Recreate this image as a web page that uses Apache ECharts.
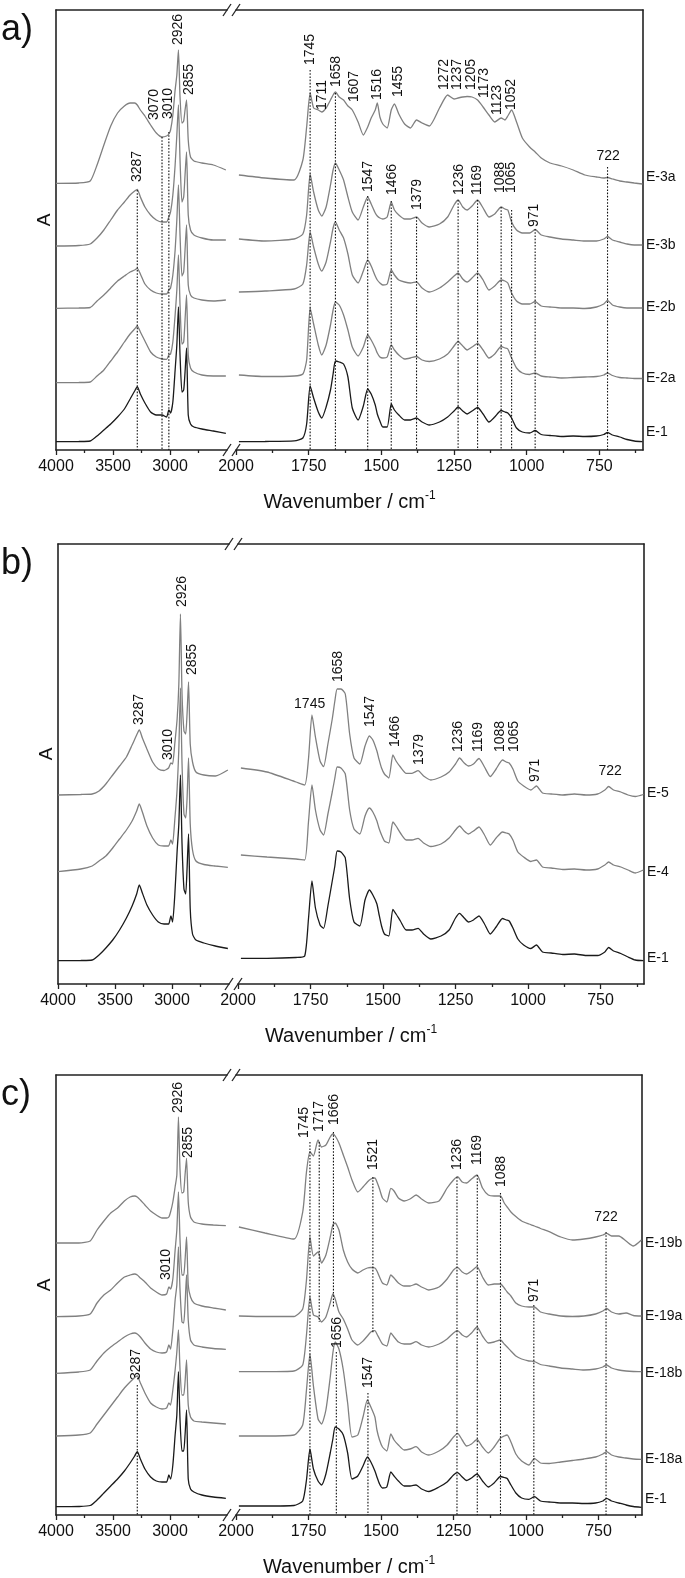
<!DOCTYPE html>
<html><head><meta charset="utf-8">
<script src="https://cdn.jsdelivr.net/npm/echarts@6/dist/echarts.min.js"></script>
<style>html,body{margin:0;padding:0;background:#fff}#c{width:685px;height:1578px}</style>
</head><body><div id="c"></div>
<script>
// ---------- shared wavenumber grids (cm-1) ----------
const HW = [4000,3800,3700,3640,3580,3520,3460,3400,3350,3310,3287,3260,3220,3170,3120,3070,3030,3010,2995,2975,2955,2940,2926,2912,2895,2880,2868,2855,2840,2820,2790,2720,2620,2510];
const RW = [1990,1900,1800,1770,1757,1745,1733,1717,1705,1690,1675,1666,1658,1645,1630,1615,1600,1580,1562,1547,1535,1521,1514,1505,1495,1480,1466,1455,1440,1420,1400,1379,1360,1335,1300,1272,1250,1236,1220,1205,1188,1169,1150,1130,1110,1088,1075,1065,1052,1035,1015,990,971,950,920,880,840,800,760,735,722,705,680,655,630,602];
const X_TICKS_HIGH = [4000,3500,3000];
const X_MINOR_HIGH = [3750,3250,2750];
const X_TICKS_LOW = [2000,1750,1500,1250,1000,750];
const X_MINOR_LOW = [1875,1625,1375,1125,875,625];

// ---------- panel a ----------
const aNames = ['E-3a','E-3b','E-2b','E-2a','E-1'];
const aNameV = [27.3,20.5,14.33,7.2,1.83];
const aE3aH = [26.67,26.7,26.9,28.5,30.5,32.4,33.7,34.4,34.7,34.7,34.5,34.0,33.4,32.5,31.7,31.3,31.4,31.6,32.0,33.5,36.0,37.5,40.0,35.3,32.7,32.9,34.0,35.0,31.0,29.3,28.9,28.7,28.5,28.0];
const aE3aL = [27.5,27.2,27.0,29.0,32.3,35.7,34.2,34.0,33.8,34.2,35.0,35.5,35.8,35.3,35.0,34.4,34.0,32.8,31.5,32.3,33.2,34.0,34.7,33.3,32.6,32.2,34.0,34.6,33.6,32.6,32.2,33.0,32.7,32.4,34.2,35.5,35.1,35.2,35.3,35.35,35.3,35.0,34.3,33.5,32.8,33.2,33.0,33.4,34.0,32.8,31.2,30.3,29.8,29.2,28.7,28.4,28.0,27.5,27.3,27.2,27.25,27.1,26.9,26.8,26.7,26.6];
const aE3bH = [20.4,20.45,20.6,21.2,22.0,23.0,24.0,24.8,25.5,25.9,26.07,25.3,24.3,23.5,23.0,22.8,22.8,23.3,23.8,25.5,28.5,31.5,34.5,29.0,24.8,25.3,27.5,29.8,23.5,22.0,21.5,21.2,21.0,21.0];
const aE3bL = [21.1,20.9,21.1,21.6,23.5,27.6,25.8,24.0,23.4,24.3,26.5,28.0,28.7,28.0,27.0,25.3,23.8,23.0,24.3,25.3,24.6,23.7,23.4,23.2,23.1,23.3,24.8,24.0,23.5,23.1,23.1,23.3,22.7,22.3,22.6,23.3,24.5,25.0,24.3,24.0,24.4,25.0,24.2,23.3,23.6,24.3,24.1,24.0,22.8,22.0,21.7,21.7,22.05,21.5,21.3,21.1,21.0,20.9,20.9,21.1,21.35,21.0,20.8,20.6,20.5,20.5];
const aE2bH = [14.17,14.2,14.25,14.9,15.5,16.2,16.9,17.4,17.8,18.0,18.17,17.6,16.6,16.0,15.7,15.6,15.6,16.0,16.2,17.5,20.0,23.0,26.5,21.5,17.4,17.8,20.0,22.5,16.5,15.5,15.2,15.0,14.9,15.0];
const aE2bL = [15.8,15.9,16.1,16.6,18.5,21.8,20.3,18.6,17.9,18.8,20.8,22.2,22.8,22.0,21.2,19.6,17.5,16.7,17.9,19.0,18.4,17.4,17.0,16.7,16.5,16.6,18.0,17.5,17.0,16.8,16.7,16.8,16.2,15.8,16.2,16.8,17.4,17.7,17.1,16.8,17.2,17.7,17.0,16.0,16.4,17.0,16.9,16.7,15.7,14.9,14.6,14.6,14.85,14.4,14.3,14.2,14.2,14.15,14.3,14.6,14.95,14.5,14.3,14.2,14.2,14.2];
const aE2aH = [6.73,6.75,6.8,7.4,8.0,8.9,9.8,10.8,11.6,12.1,12.4,11.8,10.9,9.8,9.3,9.1,9.07,9.5,9.6,10.8,13.5,16.0,19.5,14.5,10.6,10.8,13.0,15.5,9.5,8.2,7.8,7.5,7.4,7.4];
const aE2aL = [7.5,7.35,7.4,7.6,9.0,14.2,12.6,10.5,9.5,10.5,12.5,14.0,14.8,14.5,13.5,12.0,10.3,9.4,10.3,11.5,11.0,10.2,9.7,9.3,9.2,9.3,10.5,10.0,9.5,9.1,9.2,9.35,9.0,8.85,9.1,9.6,10.4,10.85,10.4,10.0,10.3,10.65,10.0,9.2,9.6,10.35,10.2,10.1,9.2,8.2,7.7,7.55,7.7,7.4,7.3,7.2,7.25,7.3,7.35,7.5,7.7,7.45,7.25,7.2,7.15,7.15];
const aE1H = [0.83,0.85,0.9,1.4,2.0,2.6,3.3,4.1,5.1,5.9,6.33,5.6,4.7,3.8,3.5,3.5,3.3,4.0,3.7,4.8,8.0,10.5,14.3,9.5,5.8,6.0,7.8,10.2,3.5,2.6,2.3,2.1,1.9,1.67];
const aE1L = [0.83,0.85,0.92,1.2,2.6,6.4,5.2,3.8,3.2,4.3,6.0,7.6,8.9,8.8,8.6,7.3,4.2,3.0,4.4,6.1,5.6,4.5,3.6,2.9,2.3,2.3,4.6,4.0,3.5,3.0,3.0,3.2,2.8,2.5,2.8,3.3,3.9,4.3,3.9,3.6,3.9,4.25,3.6,2.8,3.3,3.95,3.8,3.7,3.2,2.2,1.8,1.7,1.95,1.55,1.45,1.35,1.4,1.35,1.4,1.55,1.75,1.5,1.3,1.05,0.9,0.83];
// annotations: [line wavenumber, label wavenumber, label level, line top, line bottom, text, orientation]
const aAnnH = [
  [3287,3287,26.8,26.0,0,'3287','v'],
  [3070,3140,33.0,31.3,0,'3070','v'],
  [3010,3018,33.1,31.8,0,'3010','v'],
  [null,2932,40.5,null,null,'2926','v'],
  [null,2828,35.5,null,null,'2855','v']
];
const aAnnL = [
  [1745,1745,38.5,38.0,0,'1745','v'],
  [null,1704,34.0,null,null,'1711','v'],
  [1658,1656,36.3,35.7,0,'1658','v'],
  [null,1594,34.8,null,null,'1607','v'],
  [null,1513,35.0,null,null,'1516','v'],
  [null,1442,35.3,null,null,'1455','v'],
  [null,1284,36.0,null,null,'1272','v'],
  [null,1238,36.0,null,null,'1237','v'],
  [null,1191,36.0,null,null,'1205','v'],
  [null,1146,35.2,null,null,'1173','v'],
  [null,1102,33.5,null,null,'1123','v'],
  [null,1053,34.0,null,null,'1052','v'],
  [722,720,29.4,28.3,0,'722','h'],
  [1547,1547,25.8,25.4,0,'1547','v'],
  [1466,1464,25.5,24.9,0,'1466','v'],
  [1379,1378,24.0,23.3,0,'1379','v'],
  [1236,1233,25.5,25.0,0,'1236','v'],
  [1169,1169,25.5,25.0,0,'1169','v'],
  [1088,1091,25.7,24.3,0,'1088','v'],
  [1052,1052,25.7,24.0,0,'1065','v'],
  [971,975,22.3,22.1,0,'971','v']
];

// ---------- panel b ----------
const bNames = ['E-5','E-4','E-1'];
const bNameV = [19.07,11.23,2.57];
const bE5H = [18.9,18.95,19.0,19.3,20.0,20.9,21.8,22.7,23.9,24.9,25.4,24.6,23.5,22.2,21.5,21.35,21.6,22.1,22.0,24.1,26.5,30.0,37.0,29.0,25.3,25.0,27.0,30.2,24.0,22.2,21.2,20.9,20.8,21.4];
const bE5L = [21.6,21.2,20.2,19.9,22.5,26.9,24.7,22.3,21.73,24.0,26.5,28.3,29.5,29.5,29.0,25.0,22.6,22.0,23.8,24.8,24.4,23.3,22.5,21.6,21.0,20.6,22.9,22.3,21.7,21.07,21.07,21.33,20.8,20.4,20.7,21.2,22.0,22.6,22.1,21.8,22.0,22.55,21.7,20.75,21.5,22.4,22.2,22.1,21.5,20.3,19.8,19.4,19.8,19.1,19.0,18.9,19.0,18.9,19.0,19.4,19.75,19.4,19.2,18.9,18.75,18.95];
const bE4H = [11.23,11.5,11.8,12.3,12.8,13.6,14.5,15.4,16.3,17.3,18.0,17.2,15.8,14.6,13.9,13.8,13.8,14.4,14.0,16.5,19.5,23.5,29.6,22.0,17.0,16.6,18.5,22.6,16.0,13.4,12.3,11.95,11.8,11.67];
const bE4L = [12.9,12.7,12.5,12.4,16.2,19.9,17.4,15.4,14.9,17.0,19.2,20.6,21.7,21.6,21.0,17.4,15.5,15.0,16.8,17.6,17.2,16.3,15.6,14.9,14.3,14.1,16.2,15.8,15.1,14.4,14.4,14.57,14.1,13.75,14.0,14.6,15.4,15.8,15.3,15.0,15.3,15.7,14.9,13.9,14.6,15.2,15.1,15.0,14.4,13.2,12.7,12.25,12.4,11.7,11.6,11.45,11.5,11.4,11.5,11.9,12.2,11.9,11.7,11.4,11.1,11.4];
const bE1H = [2.33,2.35,2.4,2.9,3.6,4.4,5.4,6.6,7.8,9.0,9.9,9.1,7.9,6.9,6.2,6.0,6.0,6.8,6.2,9.0,13.3,16.0,20.9,14.0,9.5,9.0,11.5,15.0,7.5,5.0,4.4,4.1,3.8,3.55];
const bE1L = [2.57,2.57,2.65,2.8,6.5,10.3,7.6,5.9,5.57,7.8,10.3,11.8,13.3,13.2,12.6,8.5,6.2,5.8,8.4,9.4,8.9,8.0,7.0,5.8,5.0,4.8,7.47,7.0,6.3,5.4,5.4,5.57,5.0,4.5,4.8,5.4,6.6,7.07,6.6,6.2,6.4,6.8,6.0,5.0,5.7,6.55,6.4,6.3,5.6,4.5,3.9,3.55,3.9,3.2,3.1,2.95,3.0,2.85,2.85,3.2,3.65,3.3,3.05,2.7,2.4,2.33];
const bAnnH = [
  [null,3287,25.9,null,null,'3287','v'],
  [null,3030,22.4,null,null,'3010','v'],
  [null,2911,37.7,null,null,'2926','v'],
  [null,2827,30.9,null,null,'2855','v']
];
const bAnnL = [
  [null,1753,28.0,null,null,'1745','h'],
  [null,1653,30.2,null,null,'1658','v'],
  [null,1543,25.7,null,null,'1547','v'],
  [null,1459,23.7,null,null,'1466','v'],
  [null,1375,21.9,null,null,'1379','v'],
  [null,1240,23.2,null,null,'1236','v'],
  [null,1171,23.2,null,null,'1169','v'],
  [null,1096,23.2,null,null,'1088','v'],
  [null,1048,23.2,null,null,'1065','v'],
  [null,975,20.2,null,null,'971','v'],
  [null,717,21.25,null,null,'722','h']
];

// ---------- panel c ----------
const cNames = ['E-19b','E-19a','E-18b','E-18a','E-1'];
const cNameV = [27.17,19.9,14.17,5.57,1.57];
const cE19bH = [27.2,27.2,27.4,28.5,29.4,30.2,30.7,31.4,31.8,31.9,31.8,31.5,31.0,30.4,30.0,29.7,29.7,29.8,30.3,31.3,32.8,34.0,39.8,34.5,32.2,32.3,34.0,35.67,31.3,29.8,29.3,29.1,29.0,28.93];
const cE19bL = [28.8,28.2,27.6,30.3,34.3,36.33,35.9,37.5,36.8,37.0,37.8,38.1,37.9,37.2,36.0,34.8,33.5,32.3,32.8,33.3,33.6,33.7,33.3,32.6,31.7,31.3,32.67,32.4,31.7,31.4,31.6,32.0,31.6,31.2,31.4,32.7,33.5,33.83,33.3,33.2,33.6,34.0,32.7,32.0,31.9,31.9,31.2,30.8,30.3,29.85,29.4,29.1,28.9,28.65,28.33,27.8,27.5,27.6,27.8,28.0,28.17,27.9,27.9,27.4,26.9,27.5];
const cE19aH = [19.83,19.9,20.1,21.2,22.0,22.5,23.2,23.8,24.0,24.1,24.0,23.7,23.3,22.7,22.3,22.0,22.1,22.8,22.6,23.6,26.5,28.5,32.3,27.5,24.0,24.0,25.5,27.8,23.0,21.8,21.2,20.9,20.7,20.5];
const cE19aL = [19.9,19.85,19.85,20.6,23.5,27.8,25.9,26.3,25.2,26.0,27.8,29.0,29.2,28.5,26.5,25.3,24.6,24.2,24.5,24.7,24.75,24.7,24.4,23.8,23.2,23.0,24.0,23.7,23.2,22.9,22.9,23.1,22.8,22.5,22.8,23.6,24.5,24.77,24.3,24.1,24.4,24.83,23.8,23.0,23.1,23.1,22.7,22.3,21.9,21.2,20.9,20.8,20.8,20.3,20.1,19.9,19.85,19.9,20.1,20.4,20.65,20.3,20.1,20.2,19.95,19.9];
const cE18bH = [14.17,14.3,14.5,15.4,16.2,16.8,17.3,17.8,18.1,18.2,18.1,17.8,17.2,16.6,16.3,16.2,16.3,17.0,16.6,18.5,21.5,23.0,26.8,22.5,19.3,19.2,21.0,24.0,19.5,17.5,17.0,16.8,16.65,16.57];
const cE18bL = [14.33,14.33,14.4,15.0,18.0,21.8,20.0,19.8,19.3,19.8,21.2,22.1,21.6,20.3,19.6,18.6,17.5,17.0,17.4,17.9,18.3,18.43,18.1,17.6,17.1,16.9,18.2,17.8,17.3,17.1,17.1,17.33,17.0,16.8,17.1,17.6,18.2,18.43,18.0,17.8,18.2,18.8,17.9,17.2,17.3,17.5,17.1,16.8,16.4,15.9,15.6,15.4,15.35,15.05,14.9,14.7,14.6,14.5,14.6,14.8,15.0,14.7,14.5,14.4,14.35,14.33];
const cE18aH = [7.9,8.0,8.2,9.1,10.0,10.9,11.8,12.7,13.3,13.75,13.9,13.2,12.2,11.2,10.8,10.6,10.7,11.2,11.0,12.5,14.5,16.3,18.5,14.5,12.0,12.0,13.3,15.5,11.0,9.8,9.4,9.3,9.2,9.1];
const cE18aL = [7.9,7.9,8.0,9.0,12.5,16.1,12.9,9.6,9.1,10.5,13.8,16.2,17.3,16.6,14.5,11.2,7.8,8.0,9.8,11.5,10.8,9.8,8.5,7.5,6.8,6.4,8.1,7.5,7.0,6.5,6.6,6.83,6.3,6.0,6.4,7.0,7.8,8.17,7.5,6.9,7.1,7.55,6.8,6.2,6.8,7.7,7.9,8.0,7.3,6.1,5.4,5.0,5.67,5.2,5.15,5.3,5.45,5.6,5.8,6.1,6.33,6.0,5.8,5.7,5.6,5.57];
const cE1H = [0.83,0.85,0.95,1.5,2.2,2.9,3.6,4.4,5.2,5.9,6.33,5.6,4.6,3.8,3.4,3.3,3.3,4.0,3.6,5.0,8.0,10.0,14.33,9.5,6.4,6.4,8.0,10.5,3.6,2.6,2.3,2.0,1.8,1.67];
const cE1L = [0.9,0.9,0.95,1.4,3.5,6.6,4.6,3.4,3.0,4.1,6.2,7.6,8.8,8.6,8.0,6.2,3.6,3.9,4.9,5.8,5.3,4.4,3.8,3.1,2.7,2.8,4.3,3.9,3.4,2.9,2.9,3.0,2.6,2.35,2.8,3.3,4.0,4.23,3.8,3.45,3.7,4.1,3.4,2.8,3.2,3.85,3.75,3.65,3.0,2.2,1.7,1.57,1.83,1.4,1.3,1.2,1.2,1.15,1.2,1.4,1.67,1.4,1.2,1.0,0.85,0.77];
const cAnnH = [
  [null,2932,40.2,null,null,'2926','v'],
  [null,2844,35.7,null,null,'2855','v'],
  [null,3037,23.5,null,null,'3010','v'],
  [3287,3296,13.5,13.0,0,'3287','v']
];
const cAnnL = [
  [1745,1765,37.7,37.3,0,'1745','v'],
  [1713,1713,38.3,37.3,19.3,'1717','v'],
  [1664,1662,39.0,38.3,20.8,'1666','v'],
  [1654,1651,16.7,16.3,0,'1656','v'],
  [1528,1528,34.5,33.8,18.2,'1521','v'],
  [1545,1546,12.7,12.2,0,'1547','v'],
  [1238,1238,34.5,33.8,0,'1236','v'],
  [1168,1168,35.0,34.0,0,'1169','v'],
  [1088,1087,32.8,32.2,0,'1088','v'],
  [973,973,21.3,21.0,0,'971','v'],
  [724,724,29.75,28.3,0,'722','h']
];

// ---------- layout (pixels) ----------
const LAYOUT = [
  {tag:'a)', L:56, R:643, T:10,   B:450},
  {tag:'b)', L:58, R:644, T:544,  B:984},
  {tag:'c)', L:56, R:642, T:1075, B:1515}
];
const LEFT_W = 171, GAP = 9, YMAX = 44;
const PANELS = [
  {names:aNames, nameV:aNameV, hi:[aE3aH,aE3bH,aE2bH,aE2aH,aE1H], lo:[aE3aL,aE3bL,aE2bL,aE2aL,aE1L], annH:aAnnH, annL:aAnnL},
  {names:bNames, nameV:bNameV, hi:[bE5H,bE4H,bE1H], lo:[bE5L,bE4L,bE1L], annH:bAnnH, annL:bAnnL},
  {names:cNames, nameV:cNameV, hi:[cE19bH,cE19aH,cE18bH,cE18aH,cE1H], lo:[cE19bL,cE19aL,cE18bL,cE18aL,cE1L], annH:cAnnH, annL:cAnnL}
];
PANELS.forEach((p,pi)=>{
  p.hi.forEach((a,i)=>{ if(a.length!==HW.length) throw new Error('hi length '+pi+' '+i+' '+a.length); });
  p.lo.forEach((a,i)=>{ if(a.length!==RW.length) throw new Error('lo length '+pi+' '+i+' '+a.length); });
});

const FONT = '"Liberation Sans", Arial, Helvetica, sans-serif';
const INK = '#1a1a1a', GRAY = '#808080', FRAME = '#222';
const grid=[], xAxis=[], yAxis=[], series=[], graphic=[];

function addXAxes(gi, min, max, major, minor){
  const base = {type:'value', gridIndex:gi, min, max, inverse:true, splitLine:{show:false}};
  const iMain = xAxis.length;
  xAxis.push(Object.assign({}, base, {position:'bottom',
    axisLine:{show:true,onZero:false,lineStyle:{color:FRAME,width:1.6}},
    axisTick:{show:true,inside:false,length:5,customValues:major,lineStyle:{color:FRAME,width:1.3}},
    axisLabel:{show:true,customValues:major,color:'#111',fontSize:16,fontFamily:FONT,margin:9,formatter:v=>String(v)}}));
  xAxis.push(Object.assign({}, base, {position:'bottom',
    axisLine:{show:false,onZero:false},
    axisTick:{show:true,inside:false,length:3,customValues:minor,lineStyle:{color:FRAME,width:1.3}},
    axisLabel:{show:false}}));
  xAxis.push(Object.assign({}, base, {position:'top',
    axisLine:{show:true,onZero:false,lineStyle:{color:FRAME,width:1.6}},
    axisTick:{show:false}, axisLabel:{show:false}}));
  return iMain;
}
function addYAxis(gi, pos){
  yAxis.push({type:'value', gridIndex:gi, min:0, max:YMAX, position:pos,
    axisLine:{show:true,onZero:false,lineStyle:{color:FRAME,width:1.6}},
    axisTick:{show:false}, axisLabel:{show:false}, splitLine:{show:false}});
  return yAxis.length-1;
}
function annSeries(xi, yi, arr){
  return {type:'custom', xAxisIndex:xi, yAxisIndex:yi, clip:false, silent:true, z:5, animation:false,
    data: arr.map(a=>[a[1], a[2]]),
    renderItem:(params, api)=>{
      const a = arr[params.dataIndex];
      const children = [];
      if (a[3] != null) {
        const p1 = api.coord([a[0], a[3]]), p2 = api.coord([a[0], a[4]]);
        children.push({type:'line', shape:{x1:p1[0],y1:p1[1],x2:p2[0],y2:p2[1]},
          style:{stroke:'#111', lineWidth:1.1, lineDash:[1.6,1.6]}});
      }
      const pt = api.coord([a[1], a[2]]);
      const h = a[6]==='h';
      children.push({type:'text', x:pt[0], y:pt[1], rotation: h?0:Math.PI/2,
        style:{text:a[5], fill:'#111', font:'14px '+FONT, align: h?'center':'left', verticalAlign:'middle'}});
      return {type:'group', children};
    }};
}
function nameSeries(xi, yi, names, vals){
  return {type:'custom', xAxisIndex:xi, yAxisIndex:yi, clip:false, silent:true, z:5, animation:false,
    data: names.map((n,i)=>[600, vals[i]]),
    renderItem:(params, api)=>{
      const pt = api.coord([600, vals[params.dataIndex]]);
      return {type:'text', x:pt[0]+3, y:pt[1],
        style:{text:names[params.dataIndex], fill:'#111', font:'14px '+FONT, align:'left', verticalAlign:'middle'}};
    }};
}

PANELS.forEach((p,pi)=>{
  const g = LAYOUT[pi];
  const H = g.B - g.T;
  const gL = grid.length;
  grid.push({left:g.L, top:g.T, width:LEFT_W, height:H, outerBoundsMode:'none', containLabel:false});
  const gR = grid.length;
  grid.push({left:g.L+LEFT_W+GAP, top:g.T, width:g.R-(g.L+LEFT_W+GAP), height:H, outerBoundsMode:'none', containLabel:false});
  const xL = addXAxes(gL, 2500, 4000, X_TICKS_HIGH, X_MINOR_HIGH);
  const xR = addXAxes(gR, 600, 2000, X_TICKS_LOW, X_MINOR_LOW);
  const yL = addYAxis(gL, 'left');
  const yR = addYAxis(gR, 'right');
  p.names.forEach((n,i)=>{
    const color = n==='E-1' ? INK : GRAY;
    const ls = {color, width:1.3};
    series.push({type:'line', name:n+'-hi', xAxisIndex:xL, yAxisIndex:yL, data:HW.map((w,k)=>[w,p.hi[i][k]]),
      showSymbol:false, symbol:'none', smooth:0.2, lineStyle:ls, silent:true, animation:false, z:2});
    series.push({type:'line', name:n+'-lo', xAxisIndex:xR, yAxisIndex:yR, data:RW.map((w,k)=>[w,p.lo[i][k]]),
      showSymbol:false, symbol:'none', smooth:0.2, lineStyle:ls, silent:true, animation:false, z:2});
  });
  series.push(annSeries(xL, yL, p.annH));
  series.push(annSeries(xR, yR, p.annL));
  series.push(nameSeries(xR, yR, p.names, p.nameV));

  // panel tag, y name, x title, axis-break marks
  graphic.push({type:'text', x:1, y:g.T+20, style:{text:g.tag, font:'36px '+FONT, fill:'#111', align:'left', verticalAlign:'middle'}});
  graphic.push({type:'text', x:g.L-11, y:g.T+210, rotation:Math.PI/2,
    style:{text:'A', font:'19px '+FONT, fill:'#111', align:'center', verticalAlign:'middle'}});
  graphic.push({type:'text', x:(g.L+g.R)/2, y:g.B+52,
    style:{text:'{m|Wavenumber / cm}{s|-1}', align:'center', verticalAlign:'middle',
      rich:{m:{font:'20px '+FONT, fill:'#111', lineHeight:24}, s:{font:'12px '+FONT, fill:'#111', verticalAlign:'top', lineHeight:12}}}});
  [g.L+LEFT_W, g.L+LEFT_W+GAP].forEach(cx=>{
    [g.T, g.B].forEach(cy=>{
      graphic.push({type:'line', shape:{x1:cx-4, y1:cy+6, x2:cx+4, y2:cy-6}, style:{stroke:FRAME, lineWidth:1.3}});
    });
  });
});

const chart = echarts.init(document.getElementById('c'), null, {renderer:'canvas'});
chart.setOption({animation:false, backgroundColor:'#fff', grid, xAxis, yAxis, series, graphic});
</script>
</body></html>
